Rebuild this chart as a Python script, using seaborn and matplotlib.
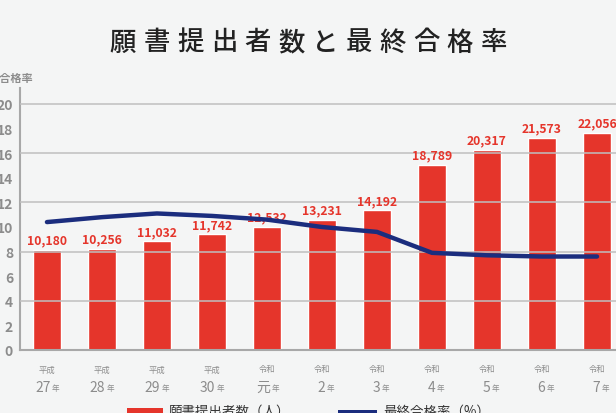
import numpy as np
import pandas as pd
import matplotlib
matplotlib.use('Agg')
import matplotlib.pyplot as plt
import matplotlib.transforms as mtransforms
from matplotlib.patches import Rectangle
import seaborn as sns

# Style
sns.set_theme(style="white")
plt.rcParams['font.family'] = ['Noto Sans CJK JP', 'DejaVu Sans']

# Data
eras = ['平成', '平成', '平成', '平成', '令和', '令和', '令和', '令和', '令和', '令和', '令和']
year_nums = ['27', '28', '29', '30', '元', '2', '3', '4', '5', '6', '7']
applicants = [10180, 10256, 11032, 11742, 12532, 13231, 14192, 18789, 20317, 21573, 22056]
pass_rate = [10.4, 10.8, 11.1, 10.9, 10.6, 10.0, 9.6, 7.9, 7.7, 7.6, 7.6]
rate_ticks = list(range(0, 21, 2))
grid_levels = [4, 8, 12, 16, 20]

title = '願書提出者数と最終合格率'
legend_bar = '願書提出者数（人）'
legend_line = '最終合格率（%）'

BG = '#f4f5f5'
RED = '#e5352b'
NAVY = '#1b2d7e'
GRAY = '#8c8c8c'
GRID = '#bfbfbf'

# Layout in pixels (616 x 414)
FW, FH = 616, 414
YTOP = 21.3
ax_left, ax_right, ax_bottom, ax_top = 20, 624.5, 351, 89

fig = plt.figure(figsize=(FW / 100, FH / 100), dpi=100, facecolor=BG)
ax = fig.add_axes([ax_left / FW, (FH - ax_bottom) / FH,
                   (ax_right - ax_left) / FW, (ax_bottom - ax_top) / FH])
ax.set_facecolor(BG)

df = pd.DataFrame({
    'year': [e + n + '年' for e, n in zip(eras, year_nums)],
    'applicants': applicants,
})

# Bars (applicants), scaled so 20% <-> 25,000
sns.barplot(data=df, x='year', y='applicants', color=RED, saturation=1,
            width=0.5, ax=ax, zorder=2)
ax.set_ylim(0, 25000 * YTOP / 20)
ax.set_xlim(-0.49, 10.5)
ax.set_yticks([])
ax.set_xlabel('')
ax.set_ylabel('')
ax.set_xticks(range(len(eras)))
ax.set_xticklabels([])
ax.tick_params(axis='x', length=0)
for side in ['top', 'right']:
    ax.spines[side].set_visible(False)
for side in ['left', 'bottom']:
    ax.spines[side].set_color('#a8a8a8')
    ax.spines[side].set_linewidth(1.5)

# Line (pass rate)
ax2 = ax.twinx()
for v in grid_levels:
    ax2.axhline(v, color=GRID, lw=1.1, zorder=1)
sns.lineplot(x=np.arange(len(pass_rate)), y=pass_rate, ax=ax2, color=NAVY,
             lw=3.2, zorder=4)
ax2.set_ylim(0, YTOP)
ax2.set_yticks(rate_ticks)
ax2.yaxis.tick_left()
ax2.tick_params(axis='y', length=0, pad=5, labelsize=10, labelcolor=GRAY)
for lab in ax2.get_yticklabels():
    lab.set_fontweight('bold')
ax2.set_ylabel('')
for side in ax2.spines:
    ax2.spines[side].set_visible(False)

# Bar value labels
lab_tr = mtransforms.offset_copy(ax.transData, fig=fig, y=2.5, units='points')
for i, v in enumerate(applicants):
    ax2.text(i, v, f'{v:,}', transform=lab_tr, ha='center', va='bottom',
             fontsize=8.8, fontweight='bold', color=RED, zorder=2)

# X labels: era + year number
xtr = ax.get_xaxis_transform()
h = ax_bottom - ax_top
for i, (e, n) in enumerate(zip(eras, year_nums)):
    ax.text(i, -(370 - ax_bottom) / h, e, transform=xtr, ha='center',
            va='center', fontsize=6, color=GRAY)
    ax.annotate(n, (i, -(388 - ax_bottom) / h), xycoords=xtr,
                xytext=(2.5, 0), textcoords='offset points', ha='right',
                va='center', fontsize=10, color=GRAY)
    ax.annotate('年', (i, -(389 - ax_bottom) / h), xycoords=xtr,
                xytext=(3.5, 0), textcoords='offset points', ha='left',
                va='center', fontsize=5.5, color=GRAY)

# Axis caption (cropped at left)
fig.text(33 / FW, (FH - 78) / FH, '最終合格率', ha='right', va='center',
         fontsize=8, fontweight='bold', color=GRAY)

# Title, spaced characters
pitch = 33.7
for k, ch in enumerate(title):
    fig.text((123 + k * pitch) / FW, (FH - 43) / FH, ch, ha='center',
             va='center', fontsize=19, fontweight='medium', color='#222222')

# Legend (cropped at bottom)
fig.add_artist(Rectangle((127 / FW, -0.02), 36 / FW, (FH - 409) / FH + 0.02,
                         transform=fig.transFigure, color=RED, lw=0))
fig.text(169 / FW, (FH - 405) / FH, legend_bar, ha='left', va='top',
         fontsize=9.7, color='#333333')
fig.add_artist(Rectangle((338 / FW, -0.02), 39 / FW, (FH - 411) / FH + 0.02,
                         transform=fig.transFigure, color=NAVY, lw=0))
fig.text(383 / FW, (FH - 405) / FH, legend_line, ha='left', va='top',
         fontsize=9.7, color='#333333')

fig.savefig('out.png', dpi=100, facecolor=BG)
